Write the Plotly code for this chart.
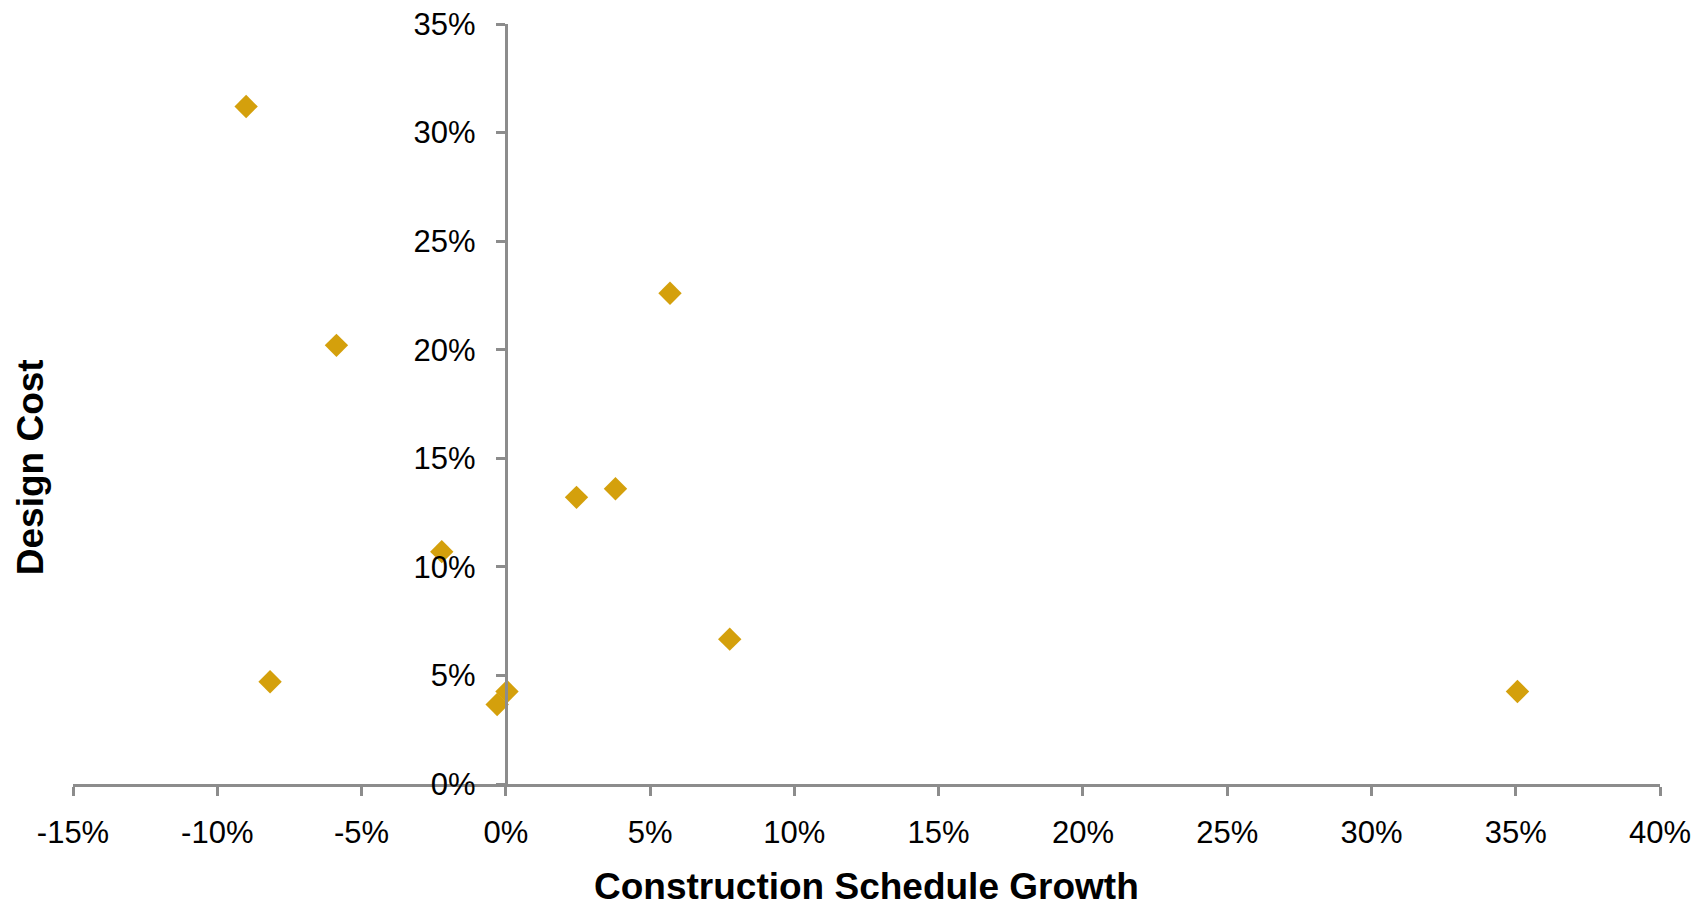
import plotly.graph_objects as go

# Data (fractions)
schedule_growth = [-0.090, -0.0587, 0.0569, 0.0245, 0.0380, -0.0222, 0.0776, -0.0817, 0.0004, -0.0030, 0.3506]
design_cost = [0.312, 0.202, 0.226, 0.132, 0.136, 0.107, 0.0667, 0.0471, 0.0426, 0.0366, 0.0426]

x_ticks = [-0.15, -0.10, -0.05, 0.0, 0.05, 0.10, 0.15, 0.20, 0.25, 0.30, 0.35, 0.40]
x_tick_labels = ["-15%", "-10%", "-5%", "0%", "5%", "10%", "15%", "20%", "25%", "30%", "35%", "40%"]
y_ticks = [0.0, 0.05, 0.10, 0.15, 0.20, 0.25, 0.30, 0.35]
y_tick_labels = ["0%", "5%", "10%", "15%", "20%", "25%", "30%", "35%"]

FONT = "Liberation Sans, Arial, sans-serif"
AXIS_COLOR = "#8c8c8c"

fig = go.Figure()
fig.add_trace(go.Scatter(
    x=schedule_growth, y=design_cost, mode="markers",
    marker=dict(symbol="diamond", size=18, color="#D4A00C", line=dict(width=0)),
    showlegend=False, hoverinfo="x+y",
))

fig.update_layout(
    width=1695, height=900,
    margin=dict(l=65, r=43, t=16, b=124),
    paper_bgcolor="white", plot_bgcolor="white",
    font=dict(family=FONT, size=31, color="black"),
    xaxis=dict(
        range=[-0.15, 0.40], tickvals=x_ticks, ticktext=x_tick_labels,
        showgrid=False, zeroline=False, automargin=False,
        showline=True, linecolor=AXIS_COLOR, linewidth=3,
        ticks="outside", ticklen=9, tickwidth=3, tickcolor=AXIS_COLOR,
        ticklabelstandoff=10, ticklabeloverflow="allow",
        tickfont=dict(family=FONT, size=31, color="black"),
        domain=[0, 1],
    ),
    yaxis=dict(
        range=[0, 0.35], tickvals=y_ticks, ticktext=y_tick_labels,
        showgrid=False, zeroline=False, automargin=False,
        showline=True, linecolor=AXIS_COLOR, linewidth=3,
        ticks="outside", ticklen=9, tickwidth=3, tickcolor=AXIS_COLOR,
        ticklabelstandoff=14, ticklabeloverflow="allow",
        tickfont=dict(family=FONT, size=31, color="black"),
        anchor="free", position=15 / 55,
    ),
    annotations=[
        dict(text="<b>Construction Schedule Growth</b>", x=0.5, y=-0.135,
             xref="paper", yref="paper", xanchor="center", yanchor="middle",
             showarrow=False, borderpad=0,
             font=dict(family=FONT, size=37, color="black")),
        dict(text="<b>Design Cost</b>", x=-0.027, y=0.417, textangle=-90,
             xref="paper", yref="paper", xanchor="center", yanchor="middle",
             showarrow=False, borderpad=0,
             font=dict(family=FONT, size=37, color="black")),
    ],
)

fig.write_html("out.html")
